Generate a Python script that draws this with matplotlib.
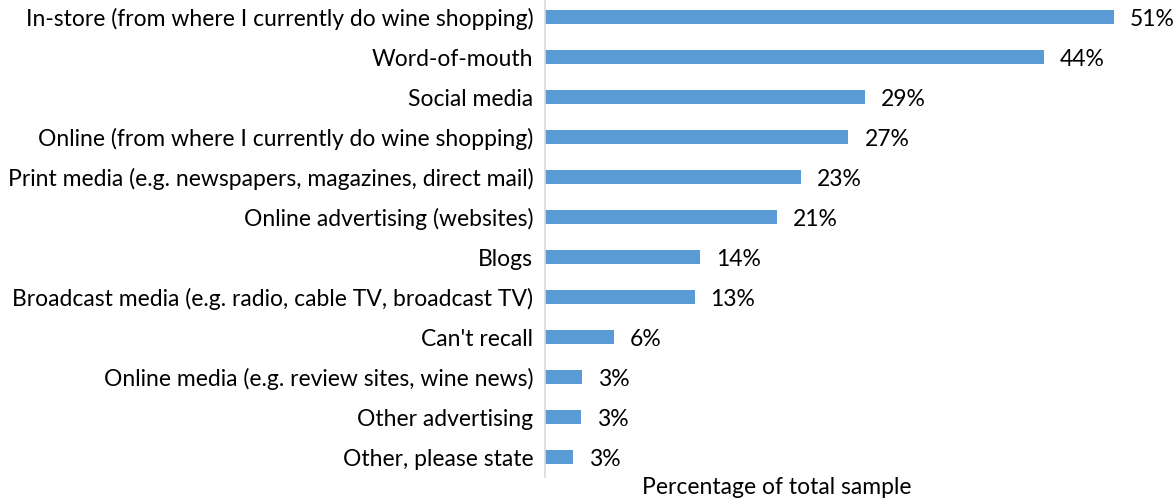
import matplotlib.pyplot as plt

plt.rcParams["font.family"] = ["Lato", "DejaVu Sans"]

categories = [
    "In-store (from where I currently do wine shopping)",
    "Word-of-mouth",
    "Social media",
    "Online (from where I currently do wine shopping)",
    "Print media (e.g. newspapers, magazines, direct mail)",
    "Online advertising (websites)",
    "Blogs",
    "Broadcast media (e.g. radio, cable TV, broadcast TV)",
    "Can't recall",
    "Online media (e.g. review sites, wine news)",
    "Other advertising",
    "Other, please state",
]
values = [51.0, 44.7, 28.7, 27.2, 22.9, 20.8, 13.9, 13.4, 6.2, 3.3, 3.2, 2.5]
value_labels = ["51%", "44%", "29%", "27%", "23%", "21%", "14%", "13%", "6%", "3%", "3%", "3%"]

W, H = 1173, 499
fs = 16.5
fig = plt.figure(figsize=(W / 100, H / 100), dpi=100)
ax = fig.add_axes([545 / W, 22 / H, 1 - 545 / W, 480 / H])

ypos = list(range(len(categories)))
ax.barh(ypos, values, height=0.35, color="#5B9BD5")
ax.set_ylim(len(categories) - 0.5, -0.5)
ax.set_xlim(0, (W - 546) / 11.14)

ax.set_yticks(ypos)
ax.set_yticklabels(categories, fontsize=fs, color="black")
ax.tick_params(axis="y", length=0, pad=8.5)
ax.set_xticks([])

for s in ["top", "right", "bottom"]:
    ax.spines[s].set_visible(False)
ax.spines["left"].set_color("#D9D9D9")
ax.spines["left"].set_linewidth(1.2)

for y, v, lab in zip(ypos, values, value_labels):
    ax.annotate(lab, (v, y), xytext=(16, -2), textcoords="offset pixels",
                va="center", ha="left", fontsize=fs, color="black",
                annotation_clip=False)

fig.text(777 / W, 1 - 488 / H, "Percentage of total sample", ha="center",
         va="center", fontsize=fs, color="black")

fig.savefig("out.png", dpi=100)
